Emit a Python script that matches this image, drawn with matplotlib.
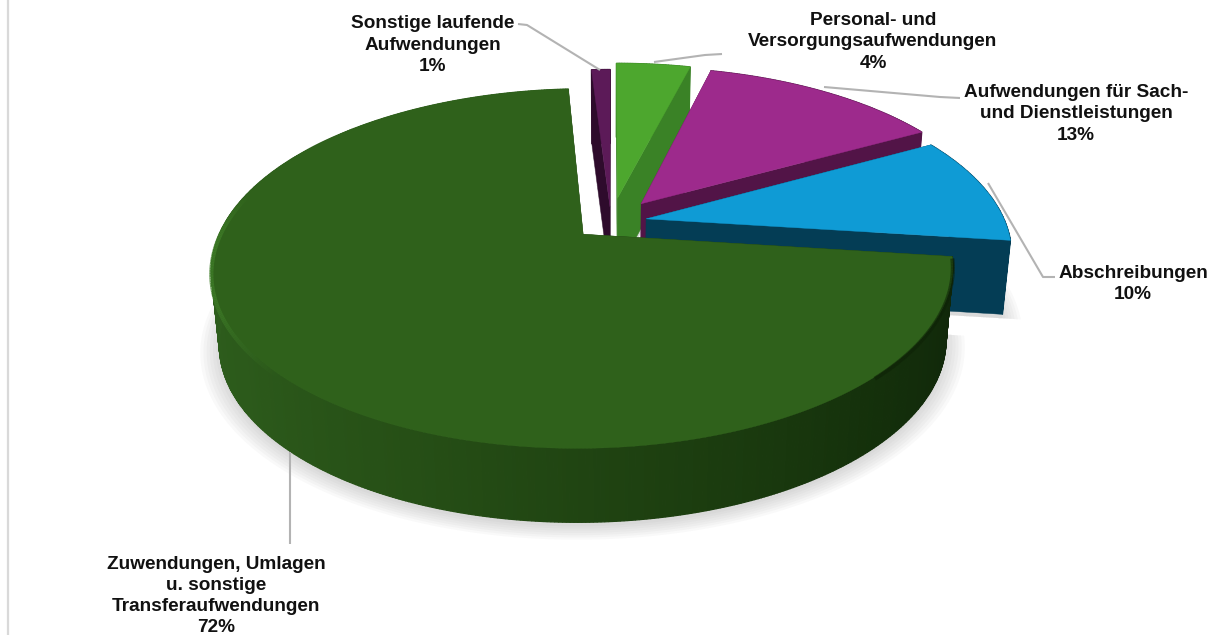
import numpy as np
import matplotlib
matplotlib.use("Agg")
import matplotlib.pyplot as plt
from matplotlib.colors import LinearSegmentedColormap
from matplotlib.patches import Polygon

# shares clockwise from 12 o'clock
names = ["Personal- und\nVersorgungsaufwendungen", "Aufwendungen für Sach-\nund Dienstleistungen",
         "Abschreibungen", "Zuwendungen, Umlagen\nu. sonstige\nTransferaufwendungen",
         "Sonstige laufende\nAufwendungen"]
shares = [4, 13, 10, 72, 1]
top_colors = ["#4da72e", "#9d2a8c", "#0f9bd5", "#2f611b", "#5c1a58"]
side_colors = ["#3a8226", "#521447", "#043d55", "#1c3c10", "#2e0b2c"]

# label centre and leader line, in pixels
label_pos = [(873, 42), (1076, 114), (1133, 284), (216, 596), (433, 45)]
leaders = [
    [(654, 62), (705, 55), (722, 54)],
    [(824, 87), (940, 97), (960, 98)],
    [(988, 183), (1043, 277), (1055, 277)],
    [(290, 452), (290, 544)],
    [(518, 24), (527, 25), (600, 70)],
]

# pseudo 3d camera
CX, CY = 611, 222
RX, RY = 359, 168.6
PERSP = 0.188
DEPTH = 74
TAPER = 0.98
explode = [0.145, 0.14, 0.1, 0.105, 0.09]
draw_order = [4, 0, 1, 2, 3]

wall_cmap = LinearSegmentedColormap.from_list(
    "wall", ["#10260a", "#14300b", "#1d3f10", "#264f16", "#2c5a1b", "#2e5e1d"])


def project(u, v, z=0.0):
    s = 1 / (1 + PERSP * np.asarray(v))
    k = 1 - (1 - TAPER) * z
    return np.column_stack([CX + RX * np.asarray(u) * s * k, CY - RY * np.asarray(v) * s + DEPTH * z])


def slice_geom(i, start, stop):
    mid = np.radians((start + stop) / 2)
    ou, ov = explode[i] * np.sin(mid), explode[i] * np.cos(mid)
    ang = np.radians(np.linspace(start, stop, max(int(stop - start) * 2, 8)))
    return ou, ov, ang, ou + np.sin(ang), ov + np.cos(ang)


fig = plt.figure(figsize=(12.13, 6.35), dpi=100)
ax = fig.add_axes([0, 0, 1, 1])
ax.set_xlim(0, 1213)
ax.set_ylim(635, 0)
ax.axis("off")
plt.rcParams["font.family"] = ["Liberation Sans", "DejaVu Sans"]

ax.plot([8, 8], [0, 635], color="#d9d9d9", lw=1.6, zorder=0)

stops = np.cumsum([0] + shares) * 3.6

# soft shadow first
for i in draw_order:
    ou, ov, ang, au, av = slice_geom(i, stops[i], stops[i + 1])
    for grow in np.linspace(1.0, 1.05, 7):
        su = np.r_[ou, ou + grow * np.sin(ang)]
        sv = np.r_[ov, ov + grow * np.cos(ang)]
        pts = project(su, sv, 1.0) + [0, 4]
        ax.add_patch(Polygon(pts, closed=True, fc="#707070", ec="none", alpha=0.04, zorder=1))

for n, i in enumerate(draw_order):
    ou, ov, ang, au, av = slice_geom(i, stops[i], stops[i + 1])
    z = 2 + n
    top = project(np.r_[ou, au], np.r_[ov, av])

    # radial walls
    for end in (0, -1):
        a = project([ou, au[end]], [ov, av[end]])
        b = project([au[end], ou], [av[end], ov], 1.0)
        ax.add_patch(Polygon(np.vstack([a, b]), closed=True, fc=side_colors[i], ec=side_colors[i], lw=0.3, zorder=z))

    # outer wall, strip by strip so the big slice can shade
    up = project(au, av)
    lo = project(au, av, 1.0)
    for k in range(len(ang) - 1):
        quad = [up[k], up[k + 1], lo[k + 1], lo[k]]
        if i == 3:
            col = wall_cmap(np.clip((np.degrees(ang[k]) - 100) / 170, 0, 1))
        else:
            col = side_colors[i]
        ax.add_patch(Polygon(quad, closed=True, fc=col, ec=col, lw=0.9, zorder=z))

    ax.add_patch(Polygon(top, closed=True, fc=top_colors[i], ec=top_colors[i], lw=0.3, zorder=z))

    # bevel on the rim of the big slice
    if i == 3:
        deg = np.degrees(ang)
        for k in range(len(ang) - 1):
            if 225 < deg[k] < 285:
                fade = min((deg[k] - 225) / 25, (285 - deg[k]) / 15, 1)
                ax.plot(up[k:k + 2, 0], up[k:k + 2, 1] + 3, color="#3f7d28", lw=3, alpha=0.8 * fade,
                        solid_capstyle="butt", zorder=z)
            elif deg[k] < 135:
                ax.plot(up[k:k + 2, 0], up[k:k + 2, 1] + 2, color="#0e2207", lw=3, alpha=0.6,
                        solid_capstyle="butt", zorder=z)

for i, pts in enumerate(leaders):
    xs, ys = zip(*pts)
    ax.plot(xs, ys, color="#b3b3b3", lw=1.5, zorder=20, solid_capstyle="butt")
    ax.text(label_pos[i][0], label_pos[i][1], f"{names[i]}\n{shares[i]}%", ha="center", va="center",
            fontsize=13.7, fontweight="bold", color="#111111", linespacing=1.32, zorder=21)

fig.savefig("out.png", dpi=100, facecolor="white")
